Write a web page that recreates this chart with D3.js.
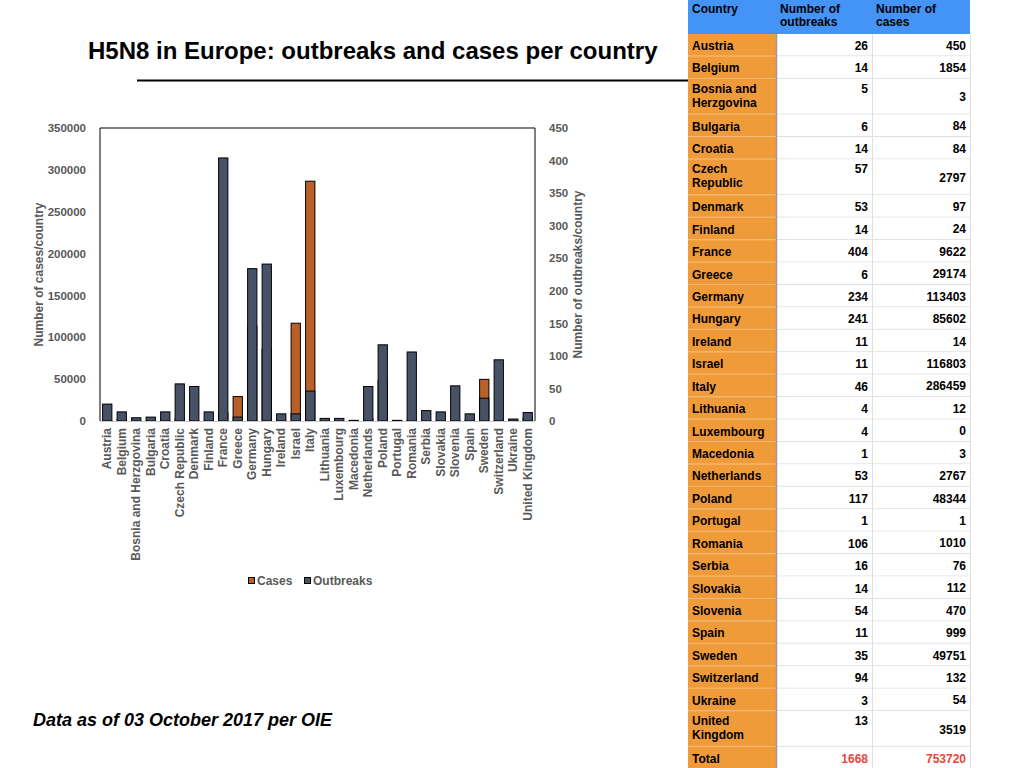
<!DOCTYPE html>
<html lang="en">
<head>
<meta charset="utf-8">
<title>H5N8 in Europe</title>
<script type="text/javascript" src="https://cdnjs.cloudflare.com/ajax/libs/d3/7.8.5/d3.min.js"></script>
<style type="text/css">
  body { margin: 0; background: #fff; }
  text { font-family: "Liberation Sans", Arial, sans-serif; }
</style>
</head>
<body>
<script type="text/javascript">
var countries = ["Austria", "Belgium", "Bosnia and Herzgovina", "Bulgaria", "Croatia",
  "Czech Republic", "Denmark", "Finland", "France", "Greece", "Germany", "Hungary",
  "Ireland", "Israel", "Italy", "Lithuania", "Luxembourg", "Macedonia", "Netherlands",
  "Poland", "Portugal", "Romania", "Serbia", "Slovakia", "Slovenia", "Spain", "Sweden",
  "Switzerland", "Ukraine", "United Kingdom"];
var outbreaks = [26, 14, 5, 6, 14, 57, 53, 14, 404, 6, 234, 241, 11, 11, 46, 4, 4, 1, 53,
  117, 1, 106, 16, 14, 54, 11, 35, 94, 3, 13];
var cases = [450, 1854, 3, 84, 84, 2797, 97, 24, 9622, 29174, 113403, 85602, 14, 116803,
  286459, 12, 0, 3, 2767, 48344, 1, 1010, 76, 112, 470, 999, 49751, 132, 54, 3519];
var tableNames = ["Austria", "Belgium", "Bosnia and\nHerzgovina", "Bulgaria", "Croatia",
  "Czech\nRepublic", "Denmark", "Finland", "France", "Greece", "Germany", "Hungary",
  "Ireland", "Israel", "Italy", "Lithuania", "Luxembourg", "Macedonia", "Netherlands",
  "Poland", "Portugal", "Romania", "Serbia", "Slovakia", "Slovenia", "Spain", "Sweden",
  "Switzerland", "Ukraine", "United\nKingdom"];
var tableHeaders = ["Country", "Number of\noutbreaks", "Number of\ncases"];
var totalOutbreaks = 1668;
var totalCases = 753720;
var casesTicks = [0, 50000, 100000, 150000, 200000, 250000, 300000, 350000];
var outbreakTicks = [0, 50, 100, 150, 200, 250, 300, 350, 400, 450];

var w = 1024, h = 768;
var gray = "#595959";
var caseColor = "#BA612A", outColor = "#475266";

var svg = d3.select("body").append("svg")
  .attr("width", w).attr("height", h);

// title
svg.append("text")
  .attr("x", 88).attr("y", 59)
  .attr("font-size", "24px").attr("font-weight", "bold")
  .attr("fill", "#000")
  .text("H5N8 in Europe: outbreaks and cases per country");
svg.append("line")
  .attr("x1", 137).attr("x2", 688).attr("y1", 80.5).attr("y2", 80.5)
  .attr("stroke", "#000").attr("stroke-width", 2);

// chart
var plotLeft = 100, plotRight = 535, plotTop = 128, plotBottom = 421;
var x = d3.scaleBand().domain(countries).range([plotLeft, plotRight]).paddingInner(0.36).paddingOuter(0.18);
var yCases = d3.scaleLinear().domain([0, 350000]).range([plotBottom, plotTop]);
var yOut = d3.scaleLinear().domain([0, 450]).range([plotBottom, plotTop]);

svg.append("g").selectAll("rect")
  .data(countries)
  .enter()
  .append("rect")
  .attr("x", function (d) { return x(d); })
  .attr("width", x.bandwidth())
  .attr("y", function (d, i) { return yCases(cases[i]); })
  .attr("height", function (d, i) { return plotBottom - yCases(cases[i]); })
  .attr("fill", caseColor).attr("stroke", "#000").attr("stroke-width", 1);

svg.append("g").selectAll("rect")
  .data(countries)
  .enter()
  .append("rect")
  .attr("x", function (d) { return x(d); })
  .attr("width", x.bandwidth())
  .attr("y", function (d, i) { return yOut(outbreaks[i]); })
  .attr("height", function (d, i) { return plotBottom - yOut(outbreaks[i]); })
  .attr("fill", outColor).attr("stroke", "#000").attr("stroke-width", 1);

// frame
svg.append("line").attr("x1", plotLeft).attr("x2", plotRight).attr("y1", plotBottom + 0.5).attr("y2", plotBottom + 0.5)
  .attr("stroke", "#c8c8c8").attr("stroke-width", 1);
svg.append("path")
  .attr("d", "M" + plotLeft + "," + plotBottom + "V" + plotTop + "H" + plotRight + "V" + plotBottom)
  .attr("fill", "none").attr("stroke", "#000").attr("stroke-width", 1);

var leftAxis = svg.append("g")
  .attr("transform", "translate(" + (plotLeft - 11) + ",0)")
  .call(d3.axisLeft(yCases).tickValues(casesTicks).tickSize(0).tickFormat(d3.format("d")));
var rightAxis = svg.append("g")
  .attr("transform", "translate(" + (plotRight + 11) + ",0)")
  .call(d3.axisRight(yOut).tickValues(outbreakTicks).tickSize(0).tickFormat(d3.format("d")));
[leftAxis, rightAxis].forEach(function (a) {
  a.select(".domain").remove();
  a.selectAll("text")
    .attr("font-family", "Liberation Sans, Arial, sans-serif")
    .attr("font-size", "11.5px").attr("font-weight", "bold").attr("fill", gray)
    .attr("dx", 0);
});

var xAxis = svg.append("g")
  .attr("transform", "translate(0," + plotBottom + ")")
  .call(d3.axisBottom(x).tickSize(0));
xAxis.select(".domain").remove();
xAxis.selectAll("text")
  .attr("font-family", "Liberation Sans, Arial, sans-serif")
  .attr("font-size", "12px").attr("font-weight", "bold").attr("fill", gray)
  .attr("text-anchor", "end")
  .attr("transform", "rotate(-90)")
  .attr("x", -7).attr("y", 0).attr("dy", "0.35em");

svg.append("text")
  .attr("transform", "translate(43," + ((plotTop + plotBottom) / 2) + ") rotate(-90)")
  .attr("text-anchor", "middle")
  .attr("font-size", "12px").attr("font-weight", "bold").attr("fill", gray)
  .text("Number of cases/country");
svg.append("text")
  .attr("transform", "translate(582," + ((plotTop + plotBottom) / 2) + ") rotate(-90)")
  .attr("text-anchor", "middle")
  .attr("font-size", "12px").attr("font-weight", "bold").attr("fill", gray)
  .text("Number of outbreaks/country");

// legend
var legend = [["Cases", caseColor, 248], ["Outbreaks", outColor, 304]];
legend.forEach(function (l) {
  svg.append("rect").attr("x", l[2] + 0.5).attr("y", 577.5).attr("width", 6).attr("height", 6)
    .attr("fill", l[1]).attr("stroke", "#000").attr("stroke-width", 1);
  svg.append("text").attr("x", l[2] + 9).attr("y", 584.5)
    .attr("font-size", "12px").attr("font-weight", "bold").attr("fill", gray)
    .text(l[0]);
});

// footnote
svg.append("text")
  .attr("x", 33).attr("y", 726)
  .attr("font-size", "18px").attr("font-weight", "bold").attr("font-style", "italic")
  .attr("fill", "#000")
  .text("Data as of 03 October 2017 per OIE");

// table
var colX = [688, 776, 872, 970];
var headH = 34, rowH = 22.43, rowH2 = 35.76;
var tbl = svg.append("g");

tbl.append("rect").attr("x", colX[0]).attr("y", 0).attr("width", colX[3] - colX[0]).attr("height", headH)
  .attr("fill", "#4394F6");
tableHeaders.forEach(function (t, j) {
  t.split("\n").forEach(function (line, k) {
    tbl.append("text").attr("x", colX[j] + 4).attr("y", 13 + k * 13)
      .attr("font-size", "12px").attr("font-weight", "bold").attr("fill", "#000")
      .text(line);
  });
});

var rows = tableNames.map(function (n, i) {
  return { name: n, out: outbreaks[i], cases: cases[i], color: "#000" };
});
rows.push({ name: "Total", out: totalOutbreaks, cases: totalCases, color: "#E8453C" });

var yPos = headH;
rows.forEach(function (r) {
  var lines = r.name.split("\n");
  var rh = lines.length > 1 ? rowH2 : rowH;
  tbl.append("rect").attr("x", colX[0]).attr("y", yPos).attr("width", colX[1] - colX[0]).attr("height", rh)
    .attr("fill", "#F09B39");
  tbl.append("rect").attr("x", colX[1]).attr("y", yPos).attr("width", colX[3] - colX[1]).attr("height", rh)
    .attr("fill", "#fff");
  tbl.append("line").attr("x1", colX[0]).attr("x2", colX[1]).attr("y1", yPos + rh - 0.5).attr("y2", yPos + rh - 0.5)
    .attr("stroke", "#F5BC78").attr("stroke-width", 1);
  tbl.append("line").attr("x1", colX[1]).attr("x2", colX[3]).attr("y1", yPos + rh - 0.5).attr("y2", yPos + rh - 0.5)
    .attr("stroke", "#e0e0e0").attr("stroke-width", 1);
  lines.forEach(function (line, k) {
    tbl.append("text").attr("x", colX[0] + 4).attr("y", yPos + (lines.length > 1 ? 14 + k * 14 : 16))
      .attr("font-size", "12px").attr("font-weight", "bold").attr("fill", "#000")
      .text(line);
  });
  tbl.append("text").attr("x", colX[2] - 4).attr("y", yPos + (lines.length > 1 ? 14 : 16))
    .attr("text-anchor", "end")
    .attr("font-size", "12px").attr("font-weight", "bold").attr("fill", r.color)
    .text(r.out);
  tbl.append("text").attr("x", colX[3] - 4).attr("y", yPos + rh / 2 + 4.5)
    .attr("text-anchor", "end")
    .attr("font-size", "12px").attr("font-weight", "bold").attr("fill", r.color)
    .text(r.cases);
  yPos += rh;
});
var tableBottom = yPos;
tbl.append("line").attr("x1", colX[1] + 0.5).attr("x2", colX[1] + 0.5).attr("y1", headH).attr("y2", tableBottom)
  .attr("stroke", "#9a9a9a").attr("stroke-width", 1.5);
tbl.append("line").attr("x1", colX[2] + 0.5).attr("x2", colX[2] + 0.5).attr("y1", headH).attr("y2", tableBottom)
  .attr("stroke", "#e0e0e0").attr("stroke-width", 1);
tbl.append("line").attr("x1", colX[3] + 0.5).attr("x2", colX[3] + 0.5).attr("y1", headH).attr("y2", tableBottom)
  .attr("stroke", "#e0e0e0").attr("stroke-width", 1);
</script>
</body>
</html>
